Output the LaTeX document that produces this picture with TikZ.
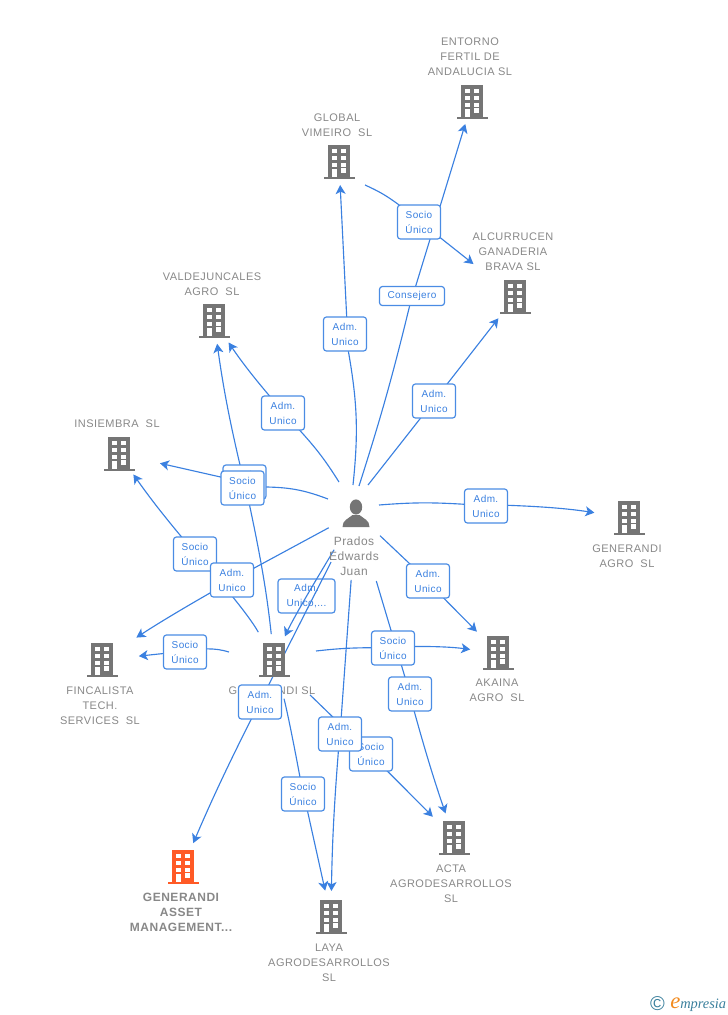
\documentclass[tikz,border=0pt]{standalone}
\usepackage{fontspec}
\setmainfont{Liberation Sans}
\newfontfamily\compfont[LetterSpace=4.3]{Liberation Sans}
\newfontfamily\tagfont[LetterSpace=4]{Liberation Sans}
\newfontfamily\logofont{Liberation Serif}
\usetikzlibrary{arrows.meta,shapes.geometric}
\pgfdeclarelayer{background}
\pgfsetlayers{background,main}
\definecolor{linkblue}{HTML}{3A80E0}
\definecolor{boxblue}{HTML}{4A8CE4}
\definecolor{icongrey}{HTML}{757575}
\definecolor{textgrey}{HTML}{888888}
\definecolor{iconorange}{HTML}{FF5A26}
\definecolor{logoteal}{HTML}{3A7F9C}
\definecolor{logoorange}{HTML}{F28A1E}
\tikzset{
	hub/.style={circle,inner sep=0pt,minimum size=0pt,outer sep=0pt},
	comp/.style={align=center,inner sep=0pt,yshift=-0.6pt,text=textgrey,font=\compfont\fontsize{8.25pt}{11.25pt}\selectfont},
	compmain/.style={comp,font=\compfont\bfseries\fontsize{9pt}{11.25pt}\selectfont},
	pers/.style={comp,font=\tagfont\fontsize{9pt}{11.25pt}\selectfont},
	tagbox/.style={draw=boxblue,line width=0.9pt,fill=white,rounded corners=2.2pt,align=center,inner sep=0pt,
		minimum width=32.25pt,minimum height=25.5pt,text=linkblue,font=\tagfont\fontsize{7.5pt}{11.25pt}\selectfont},
	link/.style={draw=linkblue,line width=0.85pt,-{Stealth[length=6.8pt,width=7.5pt,inset=1.8pt]}},
	pics/bldg/.style={code={
		\fill[#1] (-11,-17) rectangle (11,15.5);
		\fill[#1] (-15.5,15) rectangle (15.5,17);
		\foreach \wy in {-12.7,-6,0.7}{
			\fill[white] (-7.3,\wy) rectangle (-2.3,\wy+4);
			\fill[white] (2,\wy) rectangle (7,\wy+4);
		}
		\fill[white] (-7.3,7.3) rectangle (-2.3,15);
		\fill[white] (2,6.3) rectangle (7,10.7);
	}},
	pics/man/.style={code={
		\fill[#1] (0,-6) ellipse (6.2 and 7.6);
		\fill[#1] (-13.5,14) .. controls (-13.5,7) and (-8,6) .. (-3.5,2) -- (3.5,2) .. controls (8,6) and (13.5,7) .. (13.5,14) -- cycle;
	}}
}
\begin{document}
\begin{tikzpicture}[x=0.75pt,y=-0.75pt]
	\useasboundingbox (0,0) rectangle (728,1015);
	\path (356,513) node[hub] (prados) {} pic {man=icongrey};
	\path (274,660) node[hub] (gensl) {} pic {bldg=icongrey};
	\path (472,102) node[hub] (entorno) {} pic {bldg=icongrey};
	\path (339,162) node[hub] (vimeiro) {} pic {bldg=icongrey};
	\path (515,297) node[hub] (alcurrucen) {} pic {bldg=icongrey};
	\path (214,321) node[hub] (valde) {} pic {bldg=icongrey};
	\path (119,454) node[hub] (insiembra) {} pic {bldg=icongrey};
	\path (629,518) node[hub] (genagro) {} pic {bldg=icongrey};
	\path (498,653) node[hub] (akaina) {} pic {bldg=icongrey};
	\path (102,660) node[hub] (fincalista) {} pic {bldg=icongrey};
	\path (454,838) node[hub] (acta) {} pic {bldg=icongrey};
	\path (331,917) node[hub] (laya) {} pic {bldg=icongrey};
	\path (183,867) node[hub] (asset) {} pic {bldg=iconorange};

	\coordinate (s1) at (359,486);
	\coordinate (s2) at (353,485);
	\coordinate (s3) at (368,485);
	\coordinate (s4) at (365,185);
	\coordinate (s5) at (339,482);
	\coordinate (s7) at (328,499);
	\coordinate (s10) at (229,652);
	\coordinate (s18) at (316,651);
	\coordinate (s19) at (379,505);

	\node[pers] (pradost) at (354,555.3) {Prados\\Edwards\\Juan};
	\node[comp] (genslt) at (272,690) {GENERANDI SL};
	\node[comp] (entornot) at (470,56) {ENTORNO\\FERTIL DE\\ANDALUCIA SL};
	\node[comp] (vimeirot) at (337,124.5) {GLOBAL\\VIMEIRO\ \ SL};
	\node[comp] (alcurrucent) at (513,251) {ALCURRUCEN\\GANADERIA\\BRAVA SL};
	\node[comp] (valdet) at (212,283.5) {VALDEJUNCALES\\AGRO\ \ SL};
	\node[comp] (insiembrat) at (117,423) {INSIEMBRA\ \ SL};
	\node[comp] (genagrot) at (627,555.5) {GENERANDI\\AGRO\ \ SL};
	\node[comp] (akainat) at (497,689.5) {AKAINA\\AGRO\ \ SL};
	\node[comp] (fincalistat) at (100,705) {FINCALISTA\\TECH.\\SERVICES\ \ SL};
	\node[comp] (actat) at (451,883) {ACTA\\AGRODESARROLLOS\\SL};
	\node[comp] (layat) at (329,962) {LAYA\\AGRODESARROLLOS\\SL};
	\node[compmain] (assett) at (181,912) {GENERANDI\\ASSET\\MANAGEMENT...};

	\node[tagbox] (l1) at (412,296) [minimum width=48.75pt,minimum height=14.25pt] {Consejero};
	\node[tagbox] (l2) at (345,334) {Adm.\\Unico};
	\node[tagbox] (l3) at (434,401) {Adm.\\Unico};
	\node[tagbox] (l4) at (419,222) {Socio\\Único};
	\node[tagbox] (l5) at (283,413) {Adm.\\Unico};
	\node[tagbox] (l6) at (244.5,482) {Socio\\Único};
	\node[tagbox] (l7) at (242.5,488) {Socio\\Único};
	\node[tagbox] (l8) at (195,554) {Socio\\Único};
	\node[tagbox] (l9) at (232,580) {Adm.\\Unico};
	\node[tagbox] (l10) at (185,652) {Socio\\Único};
	\node[tagbox] (l12) at (260,702) {Adm.\\Unico};
	\node[tagbox] (l13) at (303,794) {Socio\\Único};
	\node[tagbox] (l15) at (371,754) {Socio\\Único};
	\node[tagbox] (l14) at (340,734) {Adm.\\Unico};
	\node[tagbox] (l16) at (410,694) {Adm.\\Unico};
	\node[tagbox] (l17) at (428,581) {Adm.\\Unico};
	\node[tagbox] (l18) at (393,648) {Socio\\Único};
	\node[tagbox] (l19) at (486,506) {Adm.\\Unico};

	\begin{pgfonlayer}{background}
		\node[tagbox] (l11) at (306.5,596) [minimum width=42.75pt] {Adm.\\Unico,...};
		\foreach \from/\via/\to/\sa/\sb/\ba/\bb in {
			s1/l1/entorno/0/23/-2/0,
			s2/l2/vimeiro/0/23/-8/0,
			s3/l3/alcurrucen/0/27/0/0,
			s4/l4/alcurrucen/0/53/6/0,
			s5/l5/valde/0/26/-5/4,
			gensl/l6/valde/26/23/-3/3,
			s7/l7/insiembra/0/42/-10/0,
			gensl/l8/insiembra/32/25/-6/3,
			prados/l9/fincalista/31/41/0/-2,
			s10/l10/fincalista/0/37/-8/0,
			prados/l11/gensl/55/26/0/-3,
			prados/l12/asset/55/26/0/-2,
			gensl/l13/laya/40/27/2/0,
			prados/l14/laya/67/26/0/-2,
			gensl/l15/acta/52/30/0/0,
			prados/l16/acta/71/26/0/-2,
			prados/l17/akaina/34/30/0/0,
			s18/l18/akaina/0/28/3/5,
			s19/l19/genagro/0/35/4/4}
		\draw[link,shorten <=\sa*0.75pt,shorten >=\sb*0.75pt] (\from) to[bend left=\ba] (\via) to[bend left=\bb] (\to);
	\end{pgfonlayer}

	\node[inner sep=0pt,text=logoteal,font=\fontsize{15pt}{15pt}\selectfont] (logoc) at (657.5,1004) {©};
	\node[inner sep=0pt,anchor=base west,text=logoteal,font=\logofont\itshape\fontsize{10.8pt}{10.8pt}\selectfont] (logot) at (670,1008.5)
		{\textcolor{logoorange}{\fontsize{17pt}{17pt}\selectfont e}mpresia};
\end{tikzpicture}
\end{document}
